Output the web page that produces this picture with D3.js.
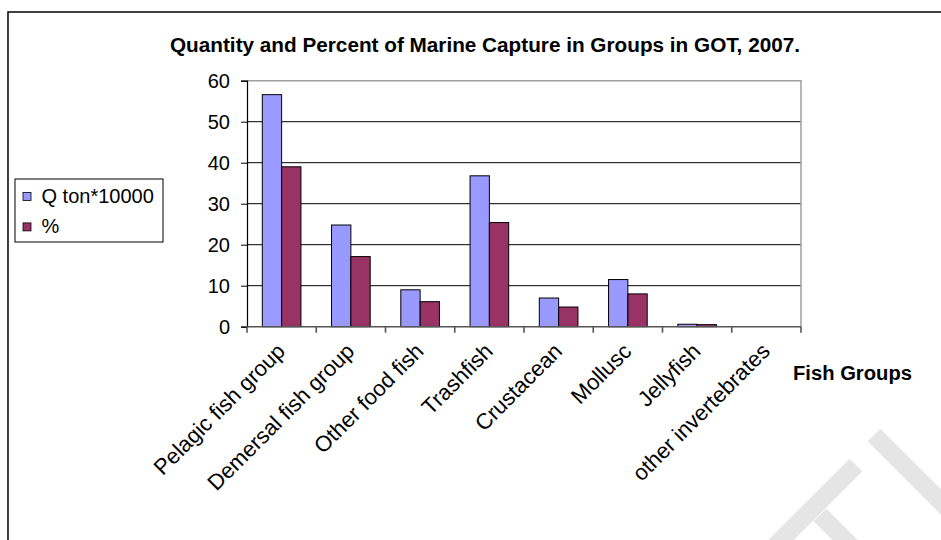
<!DOCTYPE html>
<html>
<head>
<meta charset="utf-8">
<script src="https://cdn.jsdelivr.net/npm/d3@7"></script>
<style>
  body { margin: 0; background: #fff; }
  text { font-family: Arial, "Liberation Sans", sans-serif; }
</style>
</head>
<body>
<div class="chart"></div>
<script>
// data
var categories = ["Pelagic fish group", "Demersal fish group", "Other food fish", "Trashfish",
                  "Crustacean", "Mollusc", "Jellyfish", "other invertebrates"];
var seriesNames = ["Q ton*10000", "%"];
var quantity = [56.6, 24.8, 9.0, 36.8, 7.0, 11.5, 0.6, 0];
var percent  = [39.0, 17.1, 6.1, 25.4, 4.8, 8.0, 0.5, 0];
var yTicks = [0, 10, 20, 30, 40, 50, 60];
var colors = ["#9999FF", "#993366"];

var width = 941, height = 540;

var svg = d3.select(".chart").append("svg")
    .attr("width", width)
    .attr("height", height);

// faint watermark in the corner
var wm = svg.append("g").attr("stroke", "#e5e5e5").attr("stroke-width", 18);
[[874, 435, 1000, 561], [856, 465, 756, 565], [820, 515, 870, 565]].forEach(function(s) {
  wm.append("line").attr("x1", s[0]).attr("y1", s[1]).attr("x2", s[2]).attr("y2", s[3]);
});

// outer chart border
svg.append("rect")
    .attr("x", 8).attr("y", 12)
    .attr("width", 1000).attr("height", 600)
    .attr("fill", "none")
    .attr("stroke", "#111")
    .attr("stroke-width", 1.6);

var plot = {left: 247, right: 801, top: 80.7, bottom: 326.7};

var x0 = d3.scaleBand()
    .domain(categories)
    .range([plot.left, plot.right]);

var barW = x0.bandwidth() * 0.279;

var y = d3.scaleLinear()
    .domain([0, 60])
    .range([plot.bottom, plot.top]);

// gridlines
svg.append("g").selectAll("line")
    .data(yTicks.filter(function(d) { return d > 0 && d < 60; }))
    .enter().append("line")
    .attr("x1", plot.left).attr("x2", plot.right)
    .attr("y1", function(d) { return y(d); })
    .attr("y2", function(d) { return y(d); })
    .attr("stroke", "#000")
    .attr("stroke-width", 1);

// plot frame (top + right in grey)
svg.append("path")
    .attr("d", "M" + plot.left + "," + y(60) + "H" + plot.right + "V" + plot.bottom)
    .attr("fill", "none")
    .attr("stroke", "#a0a0a0")
    .attr("stroke-width", 1.5);

// bars
var rows = categories.map(function(c, i) {
  return {cat: c, values: [quantity[i], percent[i]]};
});

var group = svg.selectAll(".grp")
    .data(rows)
    .enter().append("g")
    .attr("class", "grp")
    .attr("transform", function(d) {
        return "translate(" + (x0(d.cat) + x0.bandwidth() / 2) + ",0)"; });

group.selectAll("rect")
    .data(function(d) { return d.values; })
    .enter().append("rect")
    .attr("x", function(d, i) { return (i - 1) * barW; })
    .attr("y", function(d) { return y(d); })
    .attr("width", barW)
    .attr("height", function(d) { return y(0) - y(d); })
    .attr("fill", function(d, i) { return colors[i]; })
    .attr("stroke", function(d) { return d > 0 ? "#000" : "none"; })
    .attr("stroke-width", 1);

// y axis
var yAxis = d3.axisLeft(y).tickValues(yTicks).tickSize(6).tickPadding(11);
var yg = svg.append("g")
    .attr("transform", "translate(" + plot.left + ",0)")
    .call(yAxis);
yg.select(".domain").attr("stroke", "#000").attr("stroke-width", 1.2);
yg.selectAll(".tick line").attr("stroke", "#000");
yg.selectAll("text")
    .attr("font-size", "20px")
    .attr("font-family", "Arial, 'Liberation Sans', sans-serif")
    .attr("fill", "#000");

// x axis
var xg = svg.append("g")
    .attr("transform", "translate(0," + plot.bottom + ")");
xg.append("line")
    .attr("x1", plot.left).attr("x2", plot.right)
    .attr("stroke", "#555").attr("stroke-width", 1.6);
var edges = categories.map(function(c) { return x0(c); }).concat([plot.right]);
xg.selectAll(".xt")
    .data(edges)
    .enter().append("line")
    .attr("x1", function(d) { return d; })
    .attr("x2", function(d) { return d; })
    .attr("y1", 0).attr("y2", 6)
    .attr("stroke", "#555").attr("stroke-width", 1.6);

xg.selectAll(".xl")
    .data(categories)
    .enter().append("text")
    .attr("transform", function(d) {
        return "translate(" + (x0(d) + x0.bandwidth() / 2 - 6) + ",15) rotate(-45)"; })
    .attr("text-anchor", "end")
    .attr("dy", "0.7em")
    .attr("font-size", "22px")
    .text(function(d) { return d; });

// axis title
svg.append("text")
    .attr("x", 793).attr("y", 380)
    .attr("font-size", "20px")
    .attr("font-weight", "bold")
    .attr("textLength", 119)
    .attr("lengthAdjust", "spacingAndGlyphs")
    .text("Fish Groups");

// chart title
svg.append("text")
    .attr("x", 170).attr("y", 52)
    .attr("font-size", "20px")
    .attr("font-weight", "bold")
    .attr("textLength", 630)
    .attr("lengthAdjust", "spacingAndGlyphs")
    .text("Quantity and Percent of Marine Capture in Groups in GOT, 2007.");

// legend
var legend = svg.append("g");
legend.append("rect")
    .attr("x", 15).attr("y", 179)
    .attr("width", 148).attr("height", 63)
    .attr("fill", "#fff")
    .attr("stroke", "#000")
    .attr("stroke-width", 1);

var item = legend.selectAll(".li")
    .data(seriesNames)
    .enter().append("g")
    .attr("transform", function(d, i) { return "translate(23," + (192.5 + i * 30.4) + ")"; });
item.append("rect")
    .attr("width", 8).attr("height", 8)
    .attr("fill", function(d, i) { return colors[i]; })
    .attr("stroke", "#000")
    .attr("stroke-width", 0.8);
item.append("text")
    .attr("x", 18.5).attr("y", 10.5)
    .attr("font-size", "20px")
    .text(function(d) { return d; });
</script>
</body>
</html>
